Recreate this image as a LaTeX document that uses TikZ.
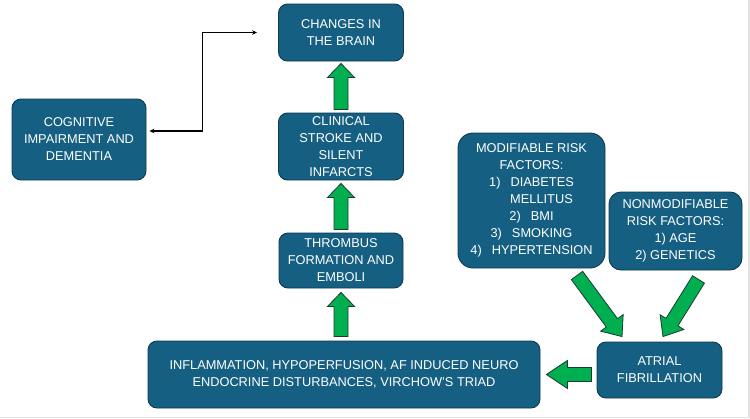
\documentclass[tikz,border=0pt]{standalone}
\usepackage{fontspec}
\setmainfont{Liberation Sans}
\usetikzlibrary{calc,arrows.meta}
\definecolor{boxfill}{HTML}{156082}
\definecolor{boxline}{HTML}{0E3B50}
\definecolor{arrgreen}{HTML}{00B050}
\definecolor{arrline}{HTML}{1B3A30}
\definecolor{edgegray}{HTML}{E2E2E2}
\tikzset{
  box/.style={draw=boxline, fill=boxfill, rounded corners=9pt, text=white,
    align=center, inner sep=2pt, line width=0.9pt,
    font=\fontsize{12.8}{17}\selectfont},
  blockarrowstyle/.style={fill=arrgreen, draw=arrline, line width=0.8pt, line join=miter},
  link/.style={draw=black, line width=1.1pt, {Stealth[length=5pt,width=4.5pt]}-{Stealth[length=5pt,width=4.5pt]}}
}
\newcommand\blockarrow[5]{%
  \coordinate (baA) at (#1);
  \coordinate (baB) at (#2);
  \coordinate (baH) at ($(baB)!#5!(baA)$);
  \filldraw[blockarrowstyle] ($(baA)!#3!90:(baB)$) -- ($(baH)!#3!90:(baB)$)
    -- ($(baH)!#4!90:(baB)$) -- (baB) -- ($(baH)!#4!-90:(baB)$)
    -- ($(baH)!#3!-90:(baB)$) -- ($(baA)!#3!-90:(baB)$) -- cycle;
}
\begin{document}
\begin{tikzpicture}[x=1pt,y=-1pt]
\useasboundingbox (0,0) rectangle (750,418);
\fill[edgegray] (0,0) rectangle (750,418);
\fill[white] (0,0) rectangle (748,416.5);

\node[box, minimum width=125pt, minimum height=57pt] (changes) at (341,32.5) {CHANGES IN\\THE BRAIN};
\node[box, minimum width=134pt, minimum height=81pt] (cognitive) at (79,139.5) {COGNITIVE\\IMPAIRMENT AND\\DEMENTIA};
\node[box, minimum width=125pt, minimum height=67pt] (clinical) at (341,146.5) {CLINICAL\\STROKE AND\\SILENT\\INFARCTS};
\node[box, minimum width=124pt, minimum height=55pt] (thrombus) at (341,260.5) {THROMBUS\\FORMATION AND\\EMBOLI};
\node[box, minimum width=392pt, minimum height=67pt] (inflam) at (344,374.5) {INFLAMMATION, HYPOPERFUSION, AF INDUCED NEURO\\ENDOCRINE DISTURBANCES, VIRCHOW’S TRIAD};
\node[box, minimum width=125pt, minimum height=56pt] (atrial) at (659.5,370) {ATRIAL\\FIBRILLATION};
\node[box, rounded corners=15pt, minimum width=147pt, minimum height=135pt] (modif) at (531.5,200.5)
  {MODIFIABLE RISK\\FACTORS:\\1)\hspace{10pt}DIABETES\\\hspace*{20pt}MELLITUS\\2)\hspace{10pt}BMI\\3)\hspace{10pt}SMOKING\\4)\hspace{10pt}HYPERTENSION};
\node[box, rounded corners=12pt, minimum width=133pt, minimum height=78pt] (nonmod) at (675.5,231)
  {NONMODIFIABLE\\RISK FACTORS:\\1) AGE\\2) GENETICS};

% green block arrows
\blockarrow{$(clinical.north)+(0,-3)$}{$(changes.south)+(0,2)$}{7pt}{13.5pt}{14pt}
\blockarrow{$(thrombus.north)+(0,-3)$}{$(clinical.south)+(0,3)$}{7pt}{13.5pt}{14pt}
\blockarrow{$(thrombus.south |- inflam.north)+(0,-4)$}{$(thrombus.south)+(0,4)$}{7pt}{13.5pt}{14pt}
\blockarrow{$(atrial.west |- inflam.east)+(-5,0)$}{$(inflam.east)+(6,0)$}{7pt}{14pt}{21pt}
\blockarrow{$(modif.south)+(45.5,7)$}{$(atrial.north)+(-37.5,-5)$}{7pt}{14pt}{17pt}
\blockarrow{$(nonmod.south)+(23,9)$}{$(atrial.north)+(3.5,-5)$}{7pt}{14pt}{17pt}

% elbow connector
\coordinate (cA) at ($(changes.west)+(-21,0)$);
\coordinate (cB) at ($(cognitive.east)+(3,-8.5)$);
\draw[link] (cB) -| ($(cA)+(-55,0)$) -- (cA);
\end{tikzpicture}
\end{document}
